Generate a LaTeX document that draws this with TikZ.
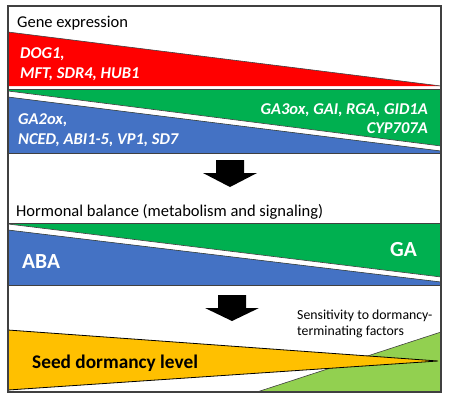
\documentclass[tikz,border=0pt]{standalone}
\usepackage{fontspec}
\setmainfont{Carlito}
\definecolor{cred}{HTML}{FF0000}
\definecolor{cgreen}{HTML}{00B050}
\definecolor{cblue}{HTML}{4472C4}
\definecolor{cyellow}{HTML}{FFC000}
\definecolor{clgreen}{HTML}{92D050}
\definecolor{cframe}{HTML}{404040}
\begin{document}
\begin{tikzpicture}[x=1pt,y=-1pt,
  edge/.style={draw=cframe,line width=0.6pt},
  lbl/.style={inner sep=0pt,font=\fontsize{16.5}{20}\selectfont},
  gene/.style={inner sep=0pt,text=white,font=\fontsize{16.5}{20}\selectfont\bfseries\itshape},
  hormone/.style={inner sep=0pt,text=white,font=\fontsize{21.5}{24}\selectfont\bfseries},
  blockarrow/.style={fill=black}]
\useasboundingbox (0,0) rectangle (450,400);
% top section: red
\fill[cred] (8,32) -- (8,86) -- (441,86) -- cycle;
\draw[edge] (8,32) -- (441,86);
% block 1
\fill[cgreen] (8,90) rectangle (441,153);
\fill[white] (8,91) -- (441,146) -- (441,151) -- (8,97) -- cycle;
\fill[cblue] (8,97) -- (441,151) -- (441,153) -- (8,153) -- cycle;
\draw[edge] (8,91) -- (441,146);
\draw[edge] (8,97) -- (441,151);
\draw[edge] (8,89.5) -- (441,89.5);
\draw[edge] (8,153) -- (441,153);
% arrow 1
\fill[blockarrow] (216,160) -- (244,160) -- (244,173) -- (257,173) -- (230,187) -- (203,173) -- (216,173) -- cycle;
% block 2
\fill[cgreen] (8,223) rectangle (441,285);
\fill[white] (8,224) -- (441,277) -- (441,282) -- (8,230) -- cycle;
\fill[cblue] (8,230) -- (441,282) -- (441,285) -- (8,285) -- cycle;
\draw[edge] (8,224) -- (441,277);
\draw[edge] (8,230) -- (441,282);
\draw[edge] (8,223) -- (441,223);
\draw[edge] (8,285) -- (441,285);
% arrow 2
\fill[blockarrow] (218,295) -- (246,295) -- (246,308) -- (259,308) -- (232,321) -- (205,308) -- (218,308) -- cycle;
% bottom
\filldraw[fill=clgreen,draw=cframe,line width=0.6pt] (257,392) -- (441,332) -- (441,392) -- cycle;
\filldraw[fill=cyellow,draw=black,line width=0.8pt] (8,330) -- (438,361) -- (8,390) -- cycle;
% frame
\draw[cframe,line width=1.5pt] (8,6) rectangle (441,392);
% texts
\node[lbl,anchor=base west] (t1) at (17,27) {Gene expression};
\node[gene,anchor=base west] (g1) at (20,58.5) {DOG1,};
\node[gene,anchor=base west] (g2) at (20,78.5) {MFT, SDR4, HUB1};
\node[gene,anchor=base west] (g3) at (18,124.5) {GA2ox,};
\node[gene,anchor=base west] (g4) at (18,144.5) {NCED, ABI1-5, VP1, SD7};
\node[gene,anchor=base east] (g5) at (428,114) {GA3ox, GAI, RGA, GID1A};
\node[gene,anchor=base east] (g6) at (428,133.5) {CYP707A};
\node[lbl,anchor=base west] (t2) at (16,216) {Hormonal balance (metabolism and signaling)};
\node[hormone,anchor=base west] (aba) at (22,268.5) {ABA};
\node[hormone,anchor=base east] (ga) at (417,256.5) {GA};
\node[inner sep=0pt,anchor=base west,font=\fontsize{13.8}{16}\selectfont] (s1) at (297,319.5) {Sensitivity to dormancy-};
\node[inner sep=0pt,anchor=base west,font=\fontsize{13.8}{16}\selectfont] (s2) at (297,335) {terminating factors};
\node[inner sep=0pt,anchor=base west,font=\fontsize{19.3}{22}\selectfont\bfseries] (sd) at (32,368.5) {Seed dormancy level};
\end{tikzpicture}
\end{document}
